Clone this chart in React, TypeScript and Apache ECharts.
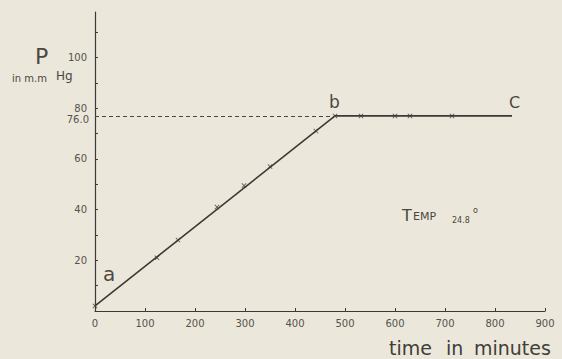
import React, { useEffect, useRef } from "react";
import * as echarts from "echarts";

// Fitted line (time in minutes, P in mm Hg)
const lineTimes = [0, 480, 834];
const linePressures = [2, 77, 77];

// Measured points (marked with x)
const pointTimes = [0, 124, 166, 244, 298, 350, 442, 480, 532, 600, 630, 714];
const pointPressures = [2, 21, 28, 41, 49.5, 57, 71, 77, 77, 77, 77, 77];

// Reference level
const refLevel = 77;
const refLabel = "76.0";
const refEnd = 480;

const yLabelValues = [20, 40, 60, 80, 100];

const INK = "#3c3a36";
const FONT = "'DejaVu Sans', 'Noto Sans', sans-serif";

const X_SYMBOL =
  "path://M0,1.2L1.2,0L5,3.8L8.8,0L10,1.2L6.2,5L10,8.8L8.8,10L5,6.2L1.2,10L0,8.8L3.8,5Z";

export default function App() {
  const ref = useRef<HTMLDivElement>(null);
  useEffect(() => {
    if (!ref.current) return;
    const chart = echarts.init(ref.current, null, { renderer: "svg" });
    chart.setOption({
      animation: false,
      backgroundColor: "#ebe7db",
      grid: { left: 95, right: 17, top: 12, bottom: 48 },
      xAxis: {
        type: "value",
        min: 0,
        max: 900,
        interval: 100,
        axisLine: { lineStyle: { color: INK, width: 1.2 } },
        axisTick: { inside: true, length: 3, lineStyle: { color: INK } },
        splitLine: { show: false },
        axisLabel: { color: "#55524c", fontSize: 10, fontFamily: FONT, margin: 7 },
      },
      yAxis: {
        type: "value",
        min: 0,
        max: 118,
        interval: 10,
        axisLine: { show: true, lineStyle: { color: INK, width: 1.2 } },
        axisTick: { show: true, inside: true, length: 3, lineStyle: { color: INK } },
        splitLine: { show: false },
        axisLabel: {
          color: "#55524c",
          fontSize: 10,
          fontFamily: FONT,
          margin: 8,
          showMaxLabel: false,
          formatter: (v: number) => (yLabelValues.includes(v) ? String(v) : ""),
        },
      },
      series: [
        {
          type: "line",
          data: lineTimes.map((t, i) => [t, linePressures[i]]),
          showSymbol: false,
          symbol: "none",
          lineStyle: { color: INK, width: 1.6 },
          markLine: {
            silent: true,
            symbol: "none",
            lineStyle: { color: "#4a4844", width: 1, type: [4, 3] },
            label: {
              show: true,
              position: "start",
              formatter: refLabel,
              color: "#55524c",
              fontSize: 10,
              fontFamily: FONT,
              distance: 6,
              offset: [0, 4],
            },
            data: [[{ coord: [0, refLevel] }, { coord: [refEnd, refLevel] }]],
          },
        },
        {
          type: "scatter",
          data: pointTimes.map((t, i) => [t, pointPressures[i]]),
          symbol: X_SYMBOL,
          symbolSize: 5,
          itemStyle: { color: INK },
          z: 3,
        },
      ],
      graphic: [
        { type: "text", left: 35, top: 45, style: { text: "P", font: `22px ${FONT}`, fill: "#4a4742" } },
        { type: "text", left: 12, top: 73, style: { text: "in m.m", font: `10px ${FONT}`, fill: "#4a4742" } },
        { type: "text", left: 56, top: 70, style: { text: "Hg", font: `12px ${FONT}`, fill: "#4a4742" } },
        { type: "text", left: 103, top: 264, style: { text: "a", font: `20px ${FONT}`, fill: "#4a4742" } },
        { type: "text", left: 329, top: 93, style: { text: "b", font: `17px ${FONT}`, fill: "#4a4742" } },
        { type: "text", left: 509, top: 94, style: { text: "C", font: `16px ${FONT}`, fill: "#4a4742" } },
        { type: "text", left: 402, top: 207, style: { text: "T", font: `16px ${FONT}`, fill: "#4a4742" } },
        { type: "text", left: 413, top: 211, style: { text: "EMP", font: `11px ${FONT}`, fill: "#4a4742" } },
        { type: "text", left: 452, top: 216, style: { text: "24.8", font: `8px ${FONT}`, fill: "#4a4742" } },
        { type: "text", left: 473, top: 206, style: { text: "o", font: `8px ${FONT}`, fill: "#4a4742" } },
        { type: "text", left: 389, top: 338, style: { text: "time", font: `19px ${FONT}`, fill: "#3f3d39" } },
        { type: "text", left: 446, top: 338, style: { text: "in", font: `19px ${FONT}`, fill: "#3f3d39" } },
        { type: "text", left: 474, top: 338, style: { text: "minutes", font: `19px ${FONT}`, fill: "#3f3d39" } },
      ],
    });
    return () => chart.dispose();
  }, []);
  return (
    <div
      ref={ref}
      style={{ position: "fixed", left: 0, top: 0, width: 562, height: 359 }}
    />
  );
}
